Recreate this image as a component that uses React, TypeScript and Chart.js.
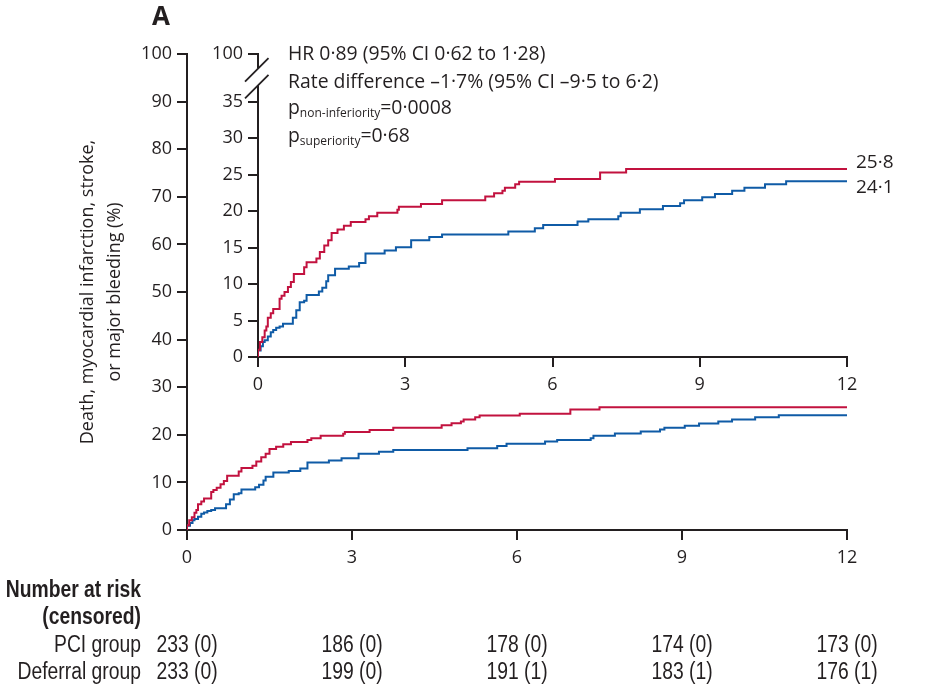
import React, { useEffect, useRef } from 'react';
import { Chart, registerables } from 'chart.js';

Chart.register(...registerables);

// ---------- data ----------
const monthTicks = [0, 3, 6, 9, 12];
const mainYTicks = [0, 10, 20, 30, 40, 50, 60, 70, 80, 90, 100];
const insetYTicks = [0, 5, 10, 15, 20, 25, 30, 35];
const insetBreakLabel = '100';

// PCI group (red) Kaplan-Meier cumulative incidence, %
const pciTimes = [0, 0.04, 0.088, 0.136, 0.17, 0.2, 0.26, 0.31, 0.44, 0.48, 0.54, 0.61, 0.67, 0.73, 0.94, 0.99, 1.19, 1.26, 1.35, 1.43, 1.5, 1.62, 1.75, 1.89, 2.19, 2.26, 2.43, 2.84, 2.87, 3.32, 3.75, 4.63, 4.81, 4.98, 5.03, 5.24, 5.32, 6.05, 6.97, 7.5, 9.67, 12];
const pciValues = [0, 1.0, 2.05, 2.7, 3.65, 4.2, 5.4, 6.0, 6.6, 8.0, 8.4, 8.9, 9.6, 10.3, 11.4, 12.3, 13.0, 13.5, 14.4, 15.3, 16.0, 17.0, 17.5, 18.0, 18.5, 18.9, 19.3, 19.8, 20.2, 20.6, 21.0, 21.5, 22.0, 22.45, 22.8, 23.2, 23.7, 24.05, 24.4, 25.3, 25.8, 25.8];

// Deferral group (blue)
const deferralTimes = [0, 0.054, 0.1, 0.136, 0.2, 0.26, 0.31, 0.37, 0.44, 0.51, 0.71, 0.78, 0.85, 0.94, 0.99, 1.24, 1.31, 1.39, 1.43, 1.57, 1.85, 2.06, 2.19, 2.58, 2.81, 3.12, 3.49, 3.75, 5.1, 5.64, 5.81, 6.51, 6.73, 7.34, 7.39, 7.78, 8.25, 8.6, 8.68, 9.05, 9.31, 9.66, 9.91, 10.33, 10.76, 10.9, 12];
const deferralValues = [0, 0.9, 1.46, 2.05, 2.3, 2.8, 3.4, 3.7, 4.0, 4.2, 4.57, 5.4, 6.4, 7.5, 7.7, 8.5, 9.0, 9.5, 10.4, 11.2, 12.1, 12.4, 12.9, 14.2, 14.6, 15.06, 16.0, 16.46, 16.8, 17.2, 17.65, 18.1, 18.6, 18.9, 19.3, 19.8, 20.26, 20.7, 21.1, 21.5, 21.9, 22.36, 22.8, 23.2, 23.7, 24.1, 24.1];

const pciEndLabel = '25·8';
const deferralEndLabel = '24·1';

const riskGroups = ['PCI group', 'Deferral group'];
const pciAtRisk = ['233 (0)', '186 (0)', '178 (0)', '174 (0)', '173 (0)'];
const deferralAtRisk = ['233 (0)', '199 (0)', '191 (1)', '183 (1)', '176 (1)'];

const statLines = ['HR 0·89 (95% CI 0·62 to 1·28)', 'Rate difference –1·7% (95% CI –9·5 to 6·2)'];
const pNonInf = ['non-inferiority', '=0·0008'];
const pSup = ['superiority', '=0·68'];

const yTitle = ['Death, myocardial infarction, stroke,', 'or major bleeding (%)'];
const panelLabel = 'A';

// ---------- style ----------
const W = 927;
const H = 690;
const INK = '#231f20';
const RED = '#c2123f';
const BLUE = '#0f5ba6';
const FAMILY = '"Open Sans", "DejaVu Sans", sans-serif';
const TABLE_FAMILY = '"Liberation Sans", Arial, sans-serif';
const INSET_MAX = 41.56; // value position of the "100" tick above the axis break

const toPoints = (t: number[], v: number[]) => t.map((x, i) => ({ x, y: v[i] }));

const makeDatasets = () => [
  {
    label: 'PCI group',
    data: toPoints(pciTimes, pciValues),
    borderColor: RED,
    borderWidth: 2,
    stepped: 'after' as const,
    pointRadius: 0,
    fill: false,
  },
  {
    label: 'Deferral group',
    data: toPoints(deferralTimes, deferralValues),
    borderColor: BLUE,
    borderWidth: 2,
    stepped: 'after' as const,
    pointRadius: 0,
    fill: false,
  },
];

const axisCommon = {
  grid: { drawOnChartArea: false, drawTicks: true, tickLength: 10, color: INK, lineWidth: 2 },
  border: { display: true, color: INK, width: 2 },
};

const mainPlugin = {
  id: 'mainExtras',
  afterDraw(chart: any) {
    const { ctx, chartArea, scales } = chart;
    ctx.save();
    ctx.fillStyle = INK;
    // panel label
    ctx.font = `bold 26px ${FAMILY}`;
    ctx.textAlign = 'left';
    ctx.textBaseline = 'middle';
    ctx.fillText(panelLabel, 152, 18);

    // number at risk table
    const base = chartArea.bottom;
    const labelRight = 141;
    const sx = 0.84;
    const drawCond = (text: string, x: number, y: number, align: 'left' | 'right' | 'center', bold = false) => {
      ctx.save();
      ctx.font = `${bold ? 'bold ' : ''}23px ${TABLE_FAMILY}`;
      ctx.textBaseline = 'middle';
      ctx.textAlign = align;
      ctx.translate(x, y);
      ctx.scale(sx, 1);
      ctx.fillText(text, 0, 0);
      ctx.restore();
    };
    drawCond('Number at risk', labelRight, base + 61, 'right', true);
    drawCond('(censored)', labelRight, base + 88, 'right', true);
    const rows = [pciAtRisk, deferralAtRisk];
    rows.forEach((row, r) => {
      const y = base + 116 + r * 27;
      drawCond(riskGroups[r], labelRight, y, 'right');
      row.forEach((txt, i) => {
        const x = scales.x.getPixelForValue(monthTicks[i]);
        drawCond(txt, x, y, 'center');
      });
    });
    ctx.restore();
  },
};

const insetPlugin = {
  id: 'insetExtras',
  afterDraw(chart: any) {
    const { ctx, chartArea, scales } = chart;
    const x0 = chartArea.left;
    const y = scales.y;
    ctx.save();
    // axis break
    const gTop = y.getPixelForValue(39.56);
    const gBot = y.getPixelForValue(37.27);
    ctx.fillStyle = '#ffffff';
    ctx.fillRect(x0 - 3, gTop, 6, gBot - gTop);
    ctx.strokeStyle = INK;
    ctx.lineWidth = 1.8;
    [gTop, gBot].forEach((cy) => {
      ctx.beginPath();
      ctx.moveTo(x0 - 13, cy + 13);
      ctx.lineTo(x0 + 10.5, cy - 10.5);
      ctx.stroke();
    });

    // statistics text
    ctx.fillStyle = INK;
    ctx.textAlign = 'left';
    ctx.textBaseline = 'middle';
    const tx = x0 + 30;
    const top = chartArea.top;
    ctx.font = `19.4px ${FAMILY}`;
    ctx.fillText(statLines[0], tx, top);
    ctx.fillText(statLines[1], tx, top + 28);
    const drawP = (sub: string, rest: string, yy: number) => {
      ctx.font = `19.4px ${FAMILY}`;
      ctx.fillText('p', tx, yy);
      let w = ctx.measureText('p').width;
      ctx.font = `12px ${FAMILY}`;
      ctx.fillText(sub, tx + w, yy + 6);
      w += ctx.measureText(sub).width;
      ctx.font = `19.4px ${FAMILY}`;
      ctx.fillText(rest, tx + w, yy);
    };
    drawP(pNonInf[0], pNonInf[1], top + 54);
    drawP(pSup[0], pSup[1], top + 82);

    // end labels
    const ex = chartArea.right + 9;
    ctx.font = `19px ${FAMILY}`;
    ctx.fillText(pciEndLabel, ex, y.getPixelForValue(pciValues[pciValues.length - 1]) - 6);
    ctx.fillText(deferralEndLabel, ex, y.getPixelForValue(deferralValues[deferralValues.length - 1]) + 6);
    ctx.restore();
  },
};

export default function App() {
  const mainRef = useRef<HTMLCanvasElement>(null);
  const insetRef = useRef<HTMLCanvasElement>(null);

  useEffect(() => {
    document.body.style.margin = '0';
    const tickFont = { size: 18, family: FAMILY };

    const main = new Chart(mainRef.current as HTMLCanvasElement, {
      type: 'line',
      data: { datasets: makeDatasets() as any },
      options: {
        animation: false,
        responsive: false,
        maintainAspectRatio: false,
        layout: { padding: { left: 0, right: 80, top: 54, bottom: 120 } },
        plugins: { legend: { display: false }, tooltip: { enabled: false } },
        scales: {
          x: {
            type: 'linear',
            min: 0,
            max: 12,
            ...axisCommon,
            afterBuildTicks: (s: any) => {
              s.ticks = monthTicks.map((value) => ({ value }));
            },
            afterFit: (s: any) => {
              s.height = 40;
            },
            ticks: { color: INK, font: tickFont, padding: 7, maxRotation: 0, callback: (v: any) => String(v) },
          },
          y: {
            type: 'linear',
            min: 0,
            max: 100,
            ...axisCommon,
            afterBuildTicks: (s: any) => {
              s.ticks = mainYTicks.map((value) => ({ value }));
            },
            afterFit: (s: any) => {
              s.width = 187;
            },
            ticks: { color: INK, font: tickFont, padding: 5, callback: (v: any) => String(v) },
            title: {
              display: true,
              text: yTitle,
              color: INK,
              font: { size: 18, family: FAMILY, lineHeight: 1.5 },
              padding: { top: 74, bottom: 0 },
            },
          },
        },
      },
      plugins: [mainPlugin],
    });

    const inset = new Chart(insetRef.current as HTMLCanvasElement, {
      type: 'line',
      data: { datasets: makeDatasets() as any },
      options: {
        animation: false,
        responsive: false,
        maintainAspectRatio: false,
        layout: { padding: { left: 0, right: 80, top: 54, bottom: 293 } },
        plugins: { legend: { display: false }, tooltip: { enabled: false } },
        scales: {
          x: {
            type: 'linear',
            min: 0,
            max: 12,
            ...axisCommon,
            afterBuildTicks: (s: any) => {
              s.ticks = monthTicks.map((value) => ({ value }));
            },
            afterFit: (s: any) => {
              s.height = 40;
            },
            ticks: { color: INK, font: tickFont, padding: 7, maxRotation: 0, callback: (v: any) => String(v) },
          },
          y: {
            type: 'linear',
            min: 0,
            max: INSET_MAX,
            ...axisCommon,
            afterBuildTicks: (s: any) => {
              s.ticks = [...insetYTicks, INSET_MAX].map((value) => ({ value }));
            },
            afterFit: (s: any) => {
              s.width = 258;
            },
            ticks: {
              color: INK,
              font: tickFont,
              padding: 5,
              callback: (v: any) => (Number(v) > 36 ? insetBreakLabel : String(v)),
            },
          },
        },
      },
      plugins: [insetPlugin],
    });

    return () => {
      main.destroy();
      inset.destroy();
    };
  }, []);

  return (
    <div style={{ position: 'relative', width: W, height: H, background: '#fff' }}>
      <canvas ref={mainRef} width={W} height={H} style={{ position: 'absolute', left: 0, top: 0 }} />
      <canvas ref={insetRef} width={W} height={H} style={{ position: 'absolute', left: 0, top: 0 }} />
    </div>
  );
}
